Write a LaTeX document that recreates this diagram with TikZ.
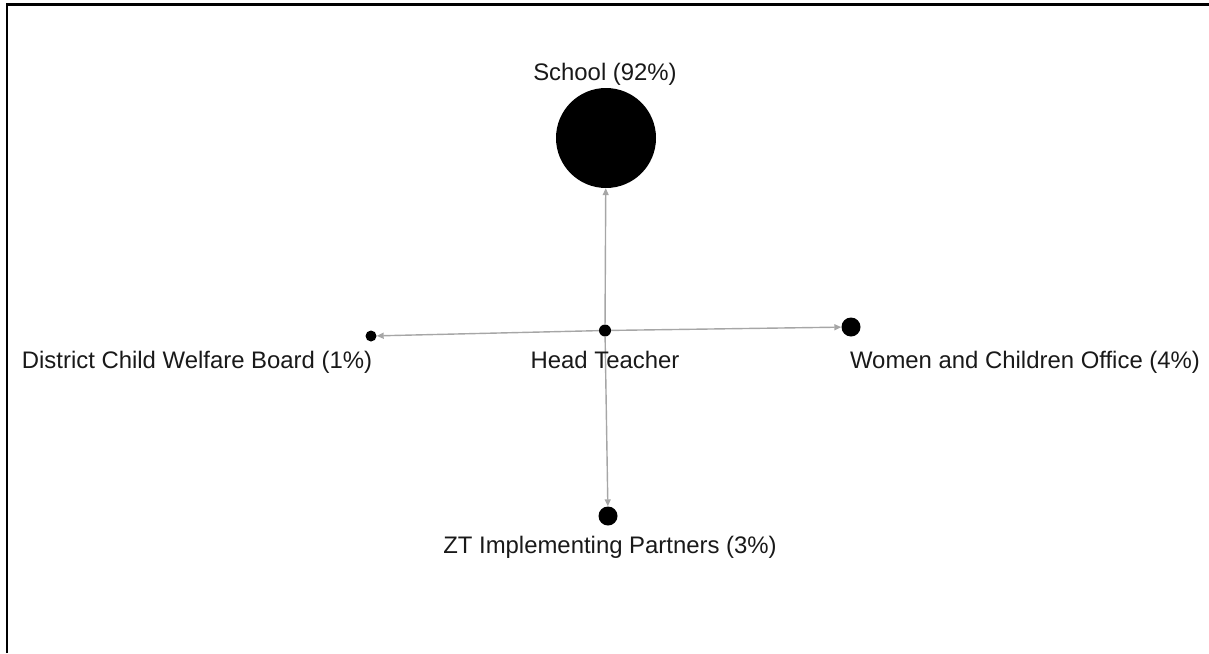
\documentclass[tikz,border=0pt]{standalone}
\usepackage{fontspec}
\setmainfont{Liberation Sans}
\usetikzlibrary{arrows.meta}
\begin{document}
\begin{tikzpicture}[x=1pt,y=-1pt,
  actor/.style={circle,fill=black,inner sep=0pt,minimum size=#1},
  tie/.style={draw=gray!70,line width=1.4pt,-{Triangle[length=7pt,width=6pt]}},
  lbl/.style={anchor=base,font=\fontsize{23.9}{28}\selectfont,text=black!90,inner sep=0pt}]
\useasboundingbox (0,0) rectangle (1209,653);
% frame
\draw[line width=2.2pt] (7,653) -- (7,4.5) -- (1209,4.5);

% actors, sized by share
\node[actor=100pt] (school) at (606,138) {};
\node[actor=12pt] (head) at (605,330.5) {};
\node[actor=11pt] (dcwb) at (371,336) {};
\node[actor=19pt] (wco) at (851,327) {};
\node[actor=19pt] (ztip) at (608,516) {};

% ties from the head teacher
\draw[tie] (head) -- (school);
\draw[tie] (head) -- (dcwb);
\draw[tie] (head) -- (wco);
\draw[tie] (head) -- (ztip);

% labels
\node[lbl] (schoolL) at (605,80) {School (92\%)};
\node[lbl] (headL) at (605,368) {Head Teacher};
\node[lbl] (dcwbL) at (197,368) {District Child Welfare Board (1\%)};
\node[lbl] (wcoL) at (1025,368) {Women and Children Office (4\%)};
\node[lbl] (ztipL) at (610,553) {ZT Implementing Partners (3\%)};
\end{tikzpicture}
\end{document}
